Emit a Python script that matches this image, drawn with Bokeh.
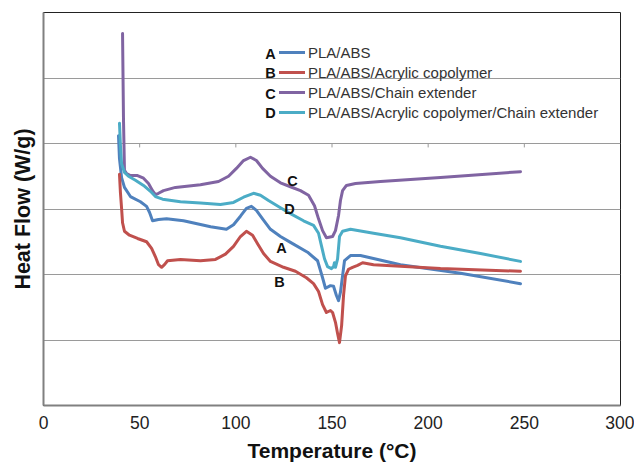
from bokeh.plotting import figure
from bokeh.models import Range1d, FixedTicker, Legend, LegendItem
from bokeh.core.properties import value
from bokeh.embed import file_html
from bokeh.resources import INLINE

# ---- data (Temperature °C, Heat flow, arbitrary offset units) ----
a_t = [39.0, 39.5, 40.6, 42.1, 45.2, 50.4, 53.6, 55.1, 56.7, 59.8, 64.0, 72.8, 86.9, 95.1, 98.8,
       102.4, 105.5, 108.1, 110.7, 113.9, 118.0, 123.2, 128.4, 137.3, 142.5, 145.1, 146.6, 149.2,
       150.8, 152.3, 153.4, 154.4, 155.5, 156.5, 159.6, 164.8, 185.6, 216.8, 248.0]
a_y = [4.12, 3.77, 3.48, 3.33, 3.19, 3.11, 3.04, 2.95, 2.82, 2.84, 2.85, 2.82, 2.73, 2.69, 2.76,
       2.89, 3.01, 3.04, 2.98, 2.85, 2.69, 2.58, 2.49, 2.34, 2.21, 1.95, 1.79, 1.83,
       1.82, 1.68, 1.60, 1.73, 1.98, 2.21, 2.29, 2.29, 2.15, 2.02, 1.86]

b_t = [39.5, 40.0, 40.6, 41.1, 42.1, 44.7, 48.9, 53.6, 56.2, 58.2, 59.8, 61.4, 62.9, 64.5, 71.2,
       81.6, 89.4, 94.6, 98.8, 102.4, 105.5, 108.7, 111.3, 114.4, 118.0, 124.8, 131.0, 136.7,
       140.4, 143.0, 145.1, 147.1, 149.2, 150.3, 151.8, 152.9, 153.9, 155.0, 156.0, 157.0, 158.6,
       160.7, 163.3, 165.9, 171.6, 206.4, 248.0]
b_y = [3.53, 3.25, 3.01, 2.79, 2.66, 2.60, 2.55, 2.50, 2.40, 2.27, 2.15, 2.11, 2.15, 2.21, 2.23,
       2.21, 2.23, 2.31, 2.43, 2.58, 2.66, 2.60, 2.47, 2.32, 2.20, 2.11, 2.05, 1.95,
       1.86, 1.74, 1.54, 1.42, 1.45, 1.42, 1.27, 1.10, 0.96, 1.22, 1.68, 1.98, 2.08,
       2.11, 2.14, 2.18, 2.15, 2.09, 2.05]

c_t = [41.1, 41.6, 42.1, 43.2, 45.2, 48.9, 52.0, 54.6, 56.7, 58.2, 59.8, 62.4, 68.6, 81.6, 91.0,
       96.2, 100.3, 104.0, 107.6, 110.7, 113.9, 118.0, 123.2, 128.4, 133.6, 137.8, 140.9, 143.0,
       145.1, 147.1, 150.3, 151.8, 153.4, 154.4, 155.5, 157.5, 162.2, 175.2, 206.4, 248.0]
c_y = [5.68, 4.35, 3.59, 3.54, 3.51, 3.51, 3.47, 3.39, 3.28, 3.22, 3.24, 3.28, 3.33, 3.37, 3.42,
       3.50, 3.62, 3.74, 3.79, 3.74, 3.62, 3.50, 3.40, 3.34, 3.28, 3.21, 3.05, 2.85,
       2.67, 2.56, 2.58, 2.67, 2.90, 3.13, 3.28, 3.36, 3.39, 3.42, 3.48, 3.57]

d_t = [39.5, 40.0, 40.6, 42.1, 44.2, 47.8, 52.0, 55.6, 58.2, 61.9, 71.2, 81.6, 92.0, 98.8, 104.0,
       109.2, 112.8, 117.0, 123.2, 128.4, 135.2, 140.4, 143.0, 144.5, 146.1, 147.7, 149.7, 150.8,
       151.3, 151.8, 152.9, 153.9, 155.5, 159.6, 171.6, 185.6, 206.4, 227.2, 248.0]
d_y = [4.31, 3.97, 3.69, 3.56, 3.50, 3.44, 3.36, 3.27, 3.19, 3.15, 3.11, 3.09, 3.07, 3.10, 3.18,
       3.24, 3.21, 3.13, 3.02, 2.93, 2.82, 2.75, 2.63, 2.44, 2.24, 2.12, 2.09, 2.12,
       2.18, 2.11, 2.24, 2.58, 2.66, 2.69, 2.63, 2.56, 2.43, 2.32, 2.20]

letters = ["A", "B", "C", "D"]
names = ["PLA/ABS", "PLA/ABS/Acrylic copolymer", "PLA/ABS/Chain extender",
         "PLA/ABS/Acrylic copolymer/Chain extender"]
colors = ["#4F81BD", "#C0504D", "#8064A2", "#4BACC6"]

# curve labels on the plot
lab_t = [123.8, 122.7, 129.5, 127.9]
lab_y = [2.41, 1.88, 3.43, 3.00]

# legend letters positions
leg_t = [118.0, 118.0, 118.0, 118.0]
leg_y = [5.37, 5.07, 4.76, 4.46]

x_ticks = [0, 50, 100, 150, 200, 250, 300]
y_grid = [1, 2, 3, 4, 5]
box_ticks = [50, 100, 150, 200, 250]

p = figure(frame_width=577, frame_height=393, output_backend="svg", toolbar_location=None,
           x_range=Range1d(0, 300), y_range=Range1d(0, 6),
           min_border_left=43, min_border_top=12, min_border_right=14, min_border_bottom=10)
p.background_fill_color = "white"
p.border_fill_color = "white"
p.outline_line_color = "#222222"
p.outline_line_width = 1

font = "Liberation Sans"

p.xaxis.ticker = FixedTicker(ticks=x_ticks)
p.xaxis.major_tick_line_color = None
p.xaxis.minor_tick_line_color = None
p.xaxis.major_label_text_font = font
p.xaxis.major_label_text_font_size = "17.5px"
p.xaxis.major_label_text_color = "#222222"
p.xaxis.major_label_standoff = 4
p.xaxis.axis_line_color = "#808080"
p.xaxis.axis_line_width = 2
p.xaxis.axis_label = "Temperature (°C)"
p.xaxis.axis_label_text_font = font
p.xaxis.axis_label_text_font_style = "bold"
p.xaxis.axis_label_text_font_size = "21px"
p.xaxis.axis_label_text_color = "#111111"
p.xaxis.axis_label_standoff = 7

p.yaxis.ticker = FixedTicker(ticks=[])
p.yaxis.major_tick_line_color = None
p.yaxis.minor_tick_line_color = None
p.yaxis.major_label_standoff = 0
p.yaxis.axis_line_color = "#808080"
p.yaxis.axis_line_width = 2
p.yaxis.axis_label = "Heat Flow (W/g)"
p.yaxis.axis_label_text_font = font
p.yaxis.axis_label_text_font_style = "bold"
p.yaxis.axis_label_text_font_size = "21.5px"
p.yaxis.axis_label_text_color = "#111111"
p.yaxis.axis_label_standoff = 9

p.xgrid.grid_line_color = None
p.ygrid.ticker = FixedTicker(ticks=y_grid)
p.ygrid.grid_line_color = "#9a9a9a"
p.ygrid.grid_line_width = 1

# small tick marks hanging from the legend box edge
p.segment(x0=box_ticks, x1=box_ticks, y0=[y_grid[3]] * 5, y1=[y_grid[3] - 0.06] * 5,
          line_color="#9a9a9a", line_width=1)

series = [(a_t, a_y), (b_t, b_y), (c_t, c_y), (d_t, d_y)]
renderers = []
for (xs, ys), col in zip(series, colors):
    r = p.line(xs, ys, line_color=col, line_width=3, line_join="round", line_cap="round")
    renderers.append(r)

p.text(x=lab_t, y=lab_y, text=letters, text_font=value(font), text_font_style="bold",
       text_font_size="14.5px", text_align="center", text_baseline="middle", text_color="#111111")
p.text(x=leg_t, y=leg_y, text=letters, text_font=value(font), text_font_style="bold",
       text_font_size="14.5px", text_align="center", text_baseline="middle", text_color="#111111")

legend = Legend(items=[LegendItem(label=n, renderers=[r]) for n, r in zip(names, renderers)],
                location=(236, 283), orientation="vertical")
legend.border_line_color = None
legend.background_fill_alpha = 0
legend.padding = 0
legend.margin = 0
legend.spacing = 0
legend.glyph_width = 26
legend.glyph_height = 20
legend.label_height = 20
legend.label_standoff = 3
legend.label_text_font = font
legend.label_text_font_size = "15px"
legend.label_text_color = "#333333"
p.add_layout(legend, "center")

with open("out.html", "w") as f:
    f.write(file_html(p, INLINE))
